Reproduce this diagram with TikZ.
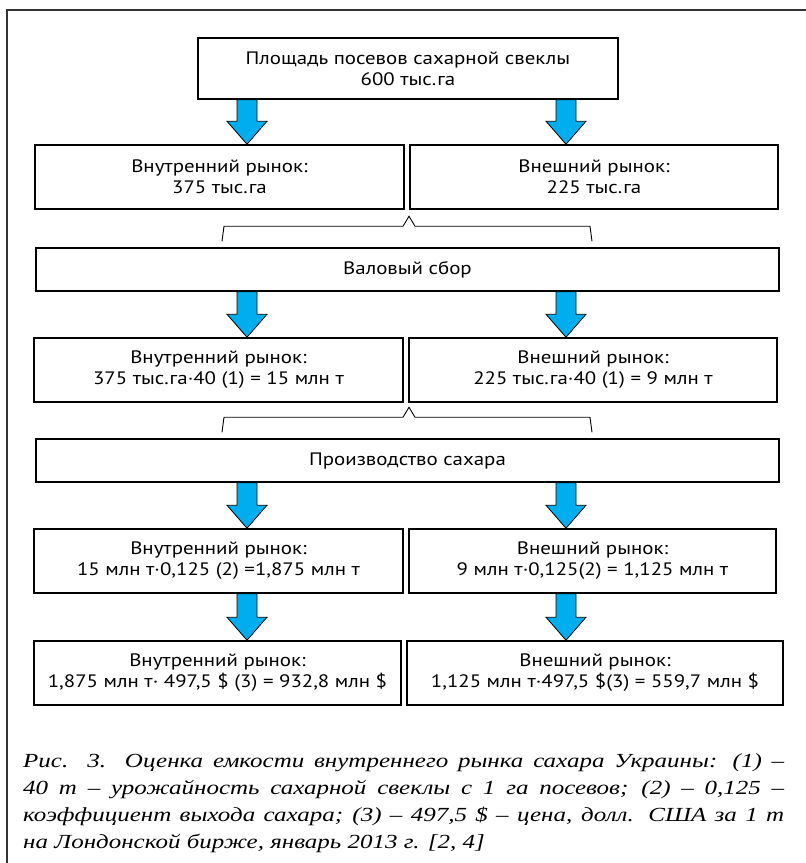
\documentclass[tikz,border=0pt]{standalone}
\usepackage{fontspec}
\setmainfont{PT Sans}[FakeStretch=1.16]
\newfontfamily\capfont{Liberation Serif}[FakeStretch=1.25]
\usetikzlibrary{calc}
\definecolor{arrowcyan}{HTML}{00AEEF}
\definecolor{framegray}{HTML}{333333}

% block arrow from #1 down to #2
\newcommand{\blockdown}[2]{%
  \filldraw[blockarr] let \p1=(#1), \p2=(#2) in
    (\x1-10pt,\y1) -- (\x1+10pt,\y1) -- (\x1+10pt,\y2+23pt) -- (\x1+20pt,\y2+23pt)
    -- (\x1,\y2) -- (\x1-20pt,\y2+23pt) -- (\x1-10pt,\y2+23pt) -- cycle;}

\begin{document}
\begin{tikzpicture}[
  x=1pt, y=-1pt,
  stepbox/.style={rectangle, draw=black, line width=1.5pt, fill=white,
                  font=\fontsize{18}{21}\selectfont, align=center, inner sep=2pt},
  halfbox/.style={stepbox, minimum height=64pt},
  widebox/.style={stepbox, minimum width=743pt, minimum height=43pt},
  blockarr/.style={draw=black, line width=0.8pt, fill=arrowcyan},
  gather/.style={draw=black, line width=0.9pt},
  frameline/.style={draw=framegray, line width=1.4pt}
]
\useasboundingbox (0,0) rectangle (806,863);

%--- Frame ---
\draw[frameline] (7,880) |- (820,10);

%--- Column positions of the arrows ---
\coordinate (colL) at (247,0);
\coordinate (colR) at (566,0);

%--- Level 1 : sown area ---
\node[stepbox, minimum width=420pt, minimum height=61pt] (area) at (408,68.5)
  {Площадь посевов сахарной свеклы\\600 тыс.га};

%--- Level 2 : area split ---
\node[halfbox, minimum width=369pt] (areaIn)  at (219.5,177) {Внутренний рынок:\\375 тыс.га};
\node[halfbox, minimum width=368pt] (areaOut) at (594,177)   {Внешний рынок:\\225 тыс.га};
\blockdown{area.south -| colL}{areaIn.north -| colL}
\blockdown{area.south -| colR}{areaOut.north -| colR}

%--- Gross harvest ---
\node[widebox] (gross) at (407.5,269.5) {Валовый сбор};
\draw[gather] ([xshift=-185.5pt,yshift=6pt]gross.north) -- ++(2,-15) -- ++(179,0)
  -- ++(6,-10) -- ++(6,10) -- ++(175,0) -- ++(2,15);

%--- Level 3 : harvest split ---
\node[halfbox, minimum width=369pt] (harvIn)  at (218.5,370) {Внутренний рынок:\\375 тыс.га·40 (1) = 15 млн т};
\node[halfbox, minimum width=368pt] (harvOut) at (593,370)   {Внешний рынок:\\225 тыс.га·40 (1) = 9 млн т};
\blockdown{gross.south -| colL}{harvIn.north -| colL}
\blockdown{gross.south -| colR}{harvOut.north -| colR}

%--- Sugar production ---
\node[widebox] (sugar) at (407.5,460.5) {Производство сахара};
\draw[gather] ([xshift=-185.5pt,yshift=6pt]sugar.north) -- ++(2,-15) -- ++(179,0)
  -- ++(6,-10) -- ++(6,10) -- ++(175,0) -- ++(2,15);

%--- Level 4 : sugar split ---
\node[halfbox, minimum width=369pt] (sugIn)  at (218.5,561) {Внутренний рынок:\\15 млн т·0,125 (2) =1,875 млн т};
\node[halfbox, minimum width=367pt] (sugOut) at (592.5,561) {Внешний рынок:\\9 млн т·0,125(2) = 1,125 млн т};
\blockdown{sugar.south -| colL}{sugIn.north -| colL}
\blockdown{sugar.south -| colR}{sugOut.north -| colR}

%--- Level 5 : market value ---
\node[halfbox, minimum width=367pt] (valIn)  at (217.5,673) {Внутренний рынок:\\1,875 млн т· 497,5 \$ (3) = 932,8 млн \$};
\node[halfbox, minimum width=376pt] (valOut) at (595,673)   {Внешний рынок:\\1,125 млн т·497,5 \$(3) = 559,7 млн \$};
\blockdown{sugIn.south -| colL}{valIn.north -| colL}
\blockdown{sugOut.south -| colR}{valOut.north -| colR}

%--- Caption ---
\node[anchor=base west, inner sep=0pt, text width=761pt, align=justify,
      font=\capfont\itshape\fontsize{20}{27}\selectfont] (caption) at (23,767)
  {Рис. 3. Оценка емкости внутреннего рынка сахара Украины: (1) –\linebreak
   40 т – урожайность сахарной свеклы с 1 га посевов; (2) – 0,125 –\linebreak
   коэффициент выхода сахара; (3) – 497,5 \$ – цена, долл. США за 1 т\linebreak
   на Лондонской бирже, январь 2013 г. [2, 4]};
\end{tikzpicture}
\end{document}
